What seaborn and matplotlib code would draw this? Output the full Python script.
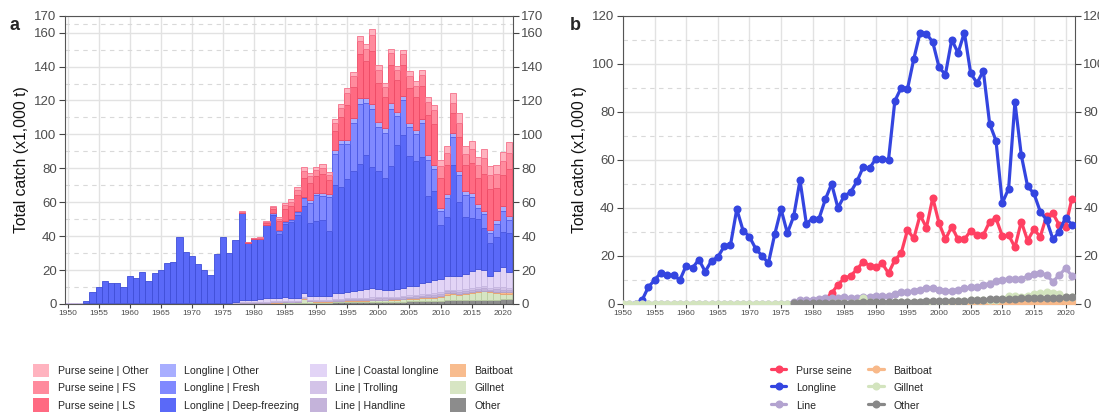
import numpy as np
import pandas as pd
import matplotlib
matplotlib.use("Agg")
import matplotlib.pyplot as plt
import seaborn as sns
from matplotlib.lines import Line2D
from matplotlib.patches import Patch
from matplotlib.ticker import FixedLocator

# ---------------- data (x1,000 t) ----------------
years = list(range(1950, 2022))
nan = np.nan

# Longline | Deep-freezing, 1950-2021
ll_deep = [nan, nan, 0, 1.5, 7, 10, 13, 12, 12, 10,
           16, 15, 18.5, 13.5, 18, 19.5, 24, 24.5, 39.5, 30.5,
           28, 23, 20, 17, 29, 39.5, 29.5, 36.5, 51.5, 33.5,
           35.5, 35.5, 43, 49, 38, 43, 44.5, 48.5, 51.5, 43,
           44, 44.5, 38, 64, 62, 66.5, 71, 74.5, 79, 71.5,
           70, 66, 73, 84.5, 90, 76.5, 73.5, 74.5, 51, 53,
           32, 34.5, 65, 44, 33.5, 31.5, 30, 25, 19, 20,
           21, 23]
# Longline | Fresh, 1982-2021
ll_fresh_start = 1982
ll_fresh = [0.5, 1, 1.5, 1.5, 1.5, 2, 5, 12,
            15, 14.5, 20, 18.5, 25.5, 20.5, 28, 35, 30.5, 34,
            25.5, 26.5, 33.5, 17.5, 20.5, 17, 16, 20, 21, 12.5,
            8, 11.5, 16.5, 15.5, 13, 12.5, 6.5, 8, 6, 8,
            12, 8]
# Longline | Other, 1984-2021
ll_other_start = 1984
ll_other = [0.5, 0.5, 0.5, 0.5, 0.5, 1.5,
            1.5, 1.5, 2, 2, 2.5, 2.5, 3, 3.5, 3, 3.5,
            3, 3, 3.5, 2.5, 2.5, 2.5, 2.5, 2.5, 3, 2.5,
            2, 2, 2.5, 2.5, 2.5, 2, 2, 2, 2, 2,
            3, 2]
# Purse seine, 1978-2021
ps_start = 1978
ps_ls = [0.6, 0.6, 0.6, 0.6, 1.2, 2.8, 5.5, 7.0, 7.7, 9.5, 11.0, 10.0,
         9.8, 11.0, 8.0, 11.5, 13.5, 21.0, 18.5, 26.0, 22.0, 31.0,
         23.5, 18.5, 22.5, 18.5, 18.5, 21.0, 19.5, 19.5, 23.5, 24.5,
         17.5, 17.5, 12.0, 20.0, 15.0, 18.0, 15.5, 22.0, 24.0, 19.0,
         18.5, 28.0]
ps_fs = [0.2, 0.2, 0.2, 0.2, 0.5, 1.0, 1.5, 2.5, 2.5, 3.2, 4.5, 4.0,
         3.8, 4.0, 3.3, 4.8, 5.3, 7.0, 6.3, 8.0, 7.0, 9.5,
         7.3, 6.0, 7.0, 6.0, 6.0, 6.8, 6.5, 6.5, 7.8, 8.0,
         7.0, 7.0, 6.0, 8.5, 6.5, 8.0, 7.5, 9.0, 8.5, 8.5,
         8.0, 9.5]
ps_other = [0.2, 0.2, 0.2, 0.2, 0.3, 0.7, 1.0, 1.2, 1.5, 1.7, 2.1, 2.0,
            1.7, 1.9, 1.5, 2.0, 2.3, 2.8, 2.5, 3.0, 2.8, 3.7,
            2.8, 2.4, 2.7, 2.4, 2.4, 2.7, 2.7, 2.7, 3.0, 3.2,
            3.8, 4.2, 5.6, 5.8, 4.9, 5.1, 5.0, 5.6, 5.2, 5.4,
            5.7, 6.3]
# Line | Coastal longline, 1950-2021
line_coastal = [0.2, 0.2, 0.2, 0.2, 0.2, 0.2, 0.2, 0.2, 0.2, 0.2,
                0.2, 0.2, 0.2, 0.2, 0.2, 0.2, 0.2, 0.2, 0.2, 0.2,
                0.2, 0.2, 0.2, 0.2, 0.2, 0.2, 0.2,
                0.6, 1.1, 1.1, 1.3, 1.5, 1.9, 2.0, 1.9, 2.1, 1.9,
                1.9, 2.1, 2.3, 2.7, 2.5, 2.5, 3.3, 3.7, 3.8, 4.2,
                4.6, 5.0, 5.2, 4.6, 4.2, 4.2, 4.6, 5.0, 5.4, 5.4,
                6.2, 6.6, 7.4, 7.8, 8.2, 8.2, 8.2, 9.0, 9.8, 10.2,
                9.4, 7.2, 9.4, 11.6, 9.2]
# Line | Trolling and Line | Handline, 1977-2021
line_sub_start = 1977
line_trolling = [0.1, 0.2, 0.2, 0.2, 0.2, 0.3, 0.3, 0.3, 0.3, 0.3,
                 0.3, 0.3, 0.3, 0.4, 0.4, 0.4, 0.5, 0.5, 0.6, 0.6,
                 0.7, 0.7, 0.8, 0.7, 0.6, 0.6, 0.7, 0.7, 0.8, 0.8,
                 0.9, 0.9, 1.0, 1.1, 1.1, 1.1, 1.1, 1.2, 1.3, 1.4,
                 1.3, 1.0, 1.3, 1.6, 1.3]
line_handline = [0.1, 0.2, 0.2, 0.3, 0.3, 0.3, 0.3, 0.3, 0.4, 0.3,
                 0.3, 0.4, 0.4, 0.4, 0.4, 0.4, 0.5, 0.6, 0.6, 0.7,
                 0.7, 0.8, 0.8, 0.7, 0.7, 0.7, 0.7, 0.8, 0.8, 0.8,
                 0.9, 1.0, 1.1, 1.1, 1.2, 1.2, 1.2, 1.3, 1.4, 1.4,
                 1.3, 1.1, 1.3, 1.6, 1.3]
# Gillnet, 1950-2021
gillnet = [0.1, 0.1, 0.1, 0.1, 0.1, 0.1, 0.1, 0.1, 0.1, 0.1,
           0.1, 0.1, 0.1, 0.1, 0.1, 0.1, 0.1, 0.1, 0.1, 0.1,
           0.1, 0.1, 0.1, 0.1, 0.1, 0.1, 0.1, 0.2, 0.2, 0.2,
           0.2, 0.2, 0.2, 0.3, 0.3, 0.3, 0.3, 0.5, 2.5, 0.8,
           0.5, 0.6, 0.6, 0.7, 0.7, 0.8, 0.8, 0.9, 0.9, 1.0,
           1.0, 1.0, 1.1, 1.2, 1.3, 1.5, 1.6, 1.7, 1.7, 1.8,
           2.0, 3.5, 3.5, 3.0, 3.5, 4.0, 4.5, 5.0, 4.5, 4.0,
           3.0, 3.0]
# Other gears, 1977-2021
other_start = 1977
other = [0.3, 0.4, 0.4,
         0.5, 0.5, 0.5, 0.5, 0.5, 0.6, 0.6, 0.6, 0.7, 0.7,
         0.8, 0.8, 0.8, 0.9, 0.9, 1.0, 1.0, 1.0, 1.1, 1.1,
         1.2, 1.2, 1.3, 1.3, 1.4, 1.5, 1.6, 1.8, 1.9, 2.0,
         2.0, 2.1, 2.2, 2.3, 2.3, 2.3, 2.4, 2.4, 2.3, 2.4,
         2.8, 2.9]
# Baitboat, 1978-2021
baitboat_start = 1978
baitboat = [0.1, 0.1,
            0.1, 0.1, 0.1, 0.1, 0.1, 0.2, 0.2, 0.2, 0.2, 0.2,
            0.2, 0.2, 0.2, 0.3, 0.3, 0.3, 0.3, 0.3, 0.3, 0.3,
            0.4, 0.4, 0.4, 0.5, 0.5, 0.6, 0.6, 0.6, 0.6, 0.6,
            0.6, 0.6, 0.5, 0.5, 0.5, 0.5, 0.5, 0.5, 0.6, 0.9,
            1.0, 1.0]


def align(start, vals):
    out = np.full(len(years), np.nan)
    i = years.index(start)
    out[i:i + len(vals)] = vals
    return out


sub = {
    "Purse seine | Other": align(ps_start, ps_other),
    "Purse seine | FS": align(ps_start, ps_fs),
    "Purse seine | LS": align(ps_start, ps_ls),
    "Longline | Other": align(ll_other_start, ll_other),
    "Longline | Fresh": align(ll_fresh_start, ll_fresh),
    "Longline | Deep-freezing": np.array(ll_deep, dtype=float),
    "Line | Coastal longline": np.array(line_coastal, dtype=float),
    "Line | Trolling": align(line_sub_start, line_trolling),
    "Line | Handline": align(line_sub_start, line_handline),
    "Baitboat": align(baitboat_start, baitboat),
    "Gillnet": np.array(gillnet, dtype=float),
    "Other": align(other_start, other),
}
legend_order = list(sub.keys())

fills = {
    "Purse seine | Other": "#FFB3BF",
    "Purse seine | FS": "#FF8B9D",
    "Purse seine | LS": "#FF6A82",
    "Longline | Other": "#A8AEFF",
    "Longline | Fresh": "#8089FF",
    "Longline | Deep-freezing": "#5A69F8",
    "Line | Coastal longline": "#E2D4F6",
    "Line | Trolling": "#D3C3E8",
    "Line | Handline": "#C4B3DA",
    "Baitboat": "#F8BC8E",
    "Gillnet": "#D7E5C3",
    "Other": "#8C8C8C",
}
edges = {
    "Purse seine | Other": "#F5708A",
    "Purse seine | FS": "#F0566F",
    "Purse seine | LS": "#EE4A64",
    "Longline | Other": "#5560E8",
    "Longline | Fresh": "#4A57E2",
    "Longline | Deep-freezing": "#3F4ED8",
    "Line | Coastal longline": "#C6B6E0",
    "Line | Trolling": "#BBAAD6",
    "Line | Handline": "#B0A0CC",
    "Baitboat": "#E8A070",
    "Gillnet": "#BACDA2",
    "Other": "#707070",
}

gear_groups = {
    "Purse seine": ["Purse seine | Other", "Purse seine | FS", "Purse seine | LS"],
    "Longline": ["Longline | Other", "Longline | Fresh", "Longline | Deep-freezing"],
    "Line": ["Line | Coastal longline", "Line | Trolling", "Line | Handline"],
    "Baitboat": ["Baitboat"],
    "Gillnet": ["Gillnet"],
    "Other": ["Other"],
}
gear_colors = {
    "Purse seine": "#FF4062",
    "Longline": "#3445E0",
    "Line": "#B3A3D0",
    "Baitboat": "#F8B98A",
    "Gillnet": "#D3E4BE",
    "Other": "#888888",
}
gear_order = list(gear_groups.keys())

# ---------------- style ----------------
sns.set_theme(style="white")
plt.rcParams['font.family'] = ['Liberation Sans', 'DejaVu Sans']

fig = plt.figure(figsize=(10.99, 4.13), dpi=100)
W, H = 1099, 413
axA = fig.add_axes([65 / W, 1 - 304 / H, (513 - 65) / W, (304 - 15.7) / H])
axB = fig.add_axes([623 / W, 1 - 304 / H, (1075 - 623) / W, (304 - 15.7) / H])

# ---------------- panel a: stacked bars ----------------
yrs = np.array(years)
bottom = np.zeros(len(years))
for name in legend_order[::-1]:
    v = np.nan_to_num(sub[name])
    m = v > 0
    axA.bar(yrs[m], v[m], bottom=bottom[m], width=1.0, color=fills[name],
            edgecolor=edges[name], linewidth=0.6, zorder=2)
    bottom += v

# ---------------- panel b: lines ----------------
rows = []
for g, members in gear_groups.items():
    tot = pd.DataFrame({m: sub[m] for m in members}).sum(axis=1, min_count=1)
    for y, val in zip(years, tot):
        if not np.isnan(val):
            rows.append({"year": y, "gear": g, "value": val})
dfB = pd.DataFrame(rows)
sns.lineplot(data=dfB, x="year", y="value", hue="gear", hue_order=gear_order,
             palette=gear_colors, linewidth=2.3, marker="o", markersize=5.8,
             markeredgewidth=0, legend=False, estimator=None, ax=axB, zorder=3)

# ---------------- axes formatting ----------------
def style_axis(ax, ymax, majors, minors, xlim):
    ax.set_xlim(*xlim)
    ax.set_ylim(0, ymax)
    ax.set_axisbelow(True)
    ax.yaxis.set_major_locator(FixedLocator(majors))
    ax.yaxis.set_minor_locator(FixedLocator(minors))
    ax.xaxis.set_major_locator(FixedLocator(list(range(1950, 2021, 5))))
    ax.grid(True, which="major", color="#E2E2E2", linewidth=1.0, linestyle="-")
    ax.grid(True, which="minor", axis="y", color="#D9D9D9", linewidth=0.8,
            linestyle=(0, (4, 4)))
    ax.tick_params(axis="y", which="major", left=True, right=True,
                   labelleft=True, labelright=True, length=4, width=0.8,
                   color="#444444", labelsize=9.5, labelcolor="#4D4D4D", pad=2)
    ax.tick_params(axis="x", which="major", bottom=True, length=3, width=0.8,
                   color="#444444", labelsize=6, labelcolor="#4D4D4D", pad=1.5)
    ax.tick_params(which="minor", length=0)
    for s in ax.spines.values():
        s.set_visible(True)
        s.set_color("#555555")
        s.set_linewidth(0.8)
    ax.set_xlabel("")
    ax.set_ylabel("Total catch (x1,000 t)", fontsize=11.3, color="#111111",
                  labelpad=4)


style_axis(axA, 170, list(range(0, 161, 20)) + [170],
           list(range(10, 151, 20)) + [165], (1949.57, 2021.66))
style_axis(axB, 120, list(range(0, 121, 20)), list(range(10, 111, 20)),
           (1950, 2021.5))

fig.text(10 / W, 1 - 30 / H, "a", fontsize=13, fontweight="bold", va="baseline")
fig.text(570 / W, 1 - 30 / H, "b", fontsize=13, fontweight="bold", va="baseline")

# ---------------- legends ----------------
handlesA = [Patch(facecolor=fills[n], edgecolor="none") for n in legend_order]
fig.legend(handlesA, legend_order, loc="upper left",
           bbox_to_anchor=(33 / W, 1 - 364 / H), ncol=4, frameon=False,
           fontsize=7.6, handlelength=1.55, handleheight=1.55,
           handletextpad=0.8, columnspacing=1.05, labelspacing=0.38,
           borderpad=0, borderaxespad=0)

handlesB = [Line2D([0], [0], color=gear_colors[g], linewidth=2.3, marker="o",
                   markersize=5.8, markeredgewidth=0) for g in gear_order]
fig.legend(handlesB, gear_order, loc="upper left",
           bbox_to_anchor=(771 / W, 1 - 364 / H), ncol=2, frameon=False,
           fontsize=7.6, handlelength=1.45, handleheight=1.55,
           handletextpad=0.9, columnspacing=1.6, labelspacing=0.38,
           borderpad=0, borderaxespad=0)

fig.savefig("out.png", dpi=100)
